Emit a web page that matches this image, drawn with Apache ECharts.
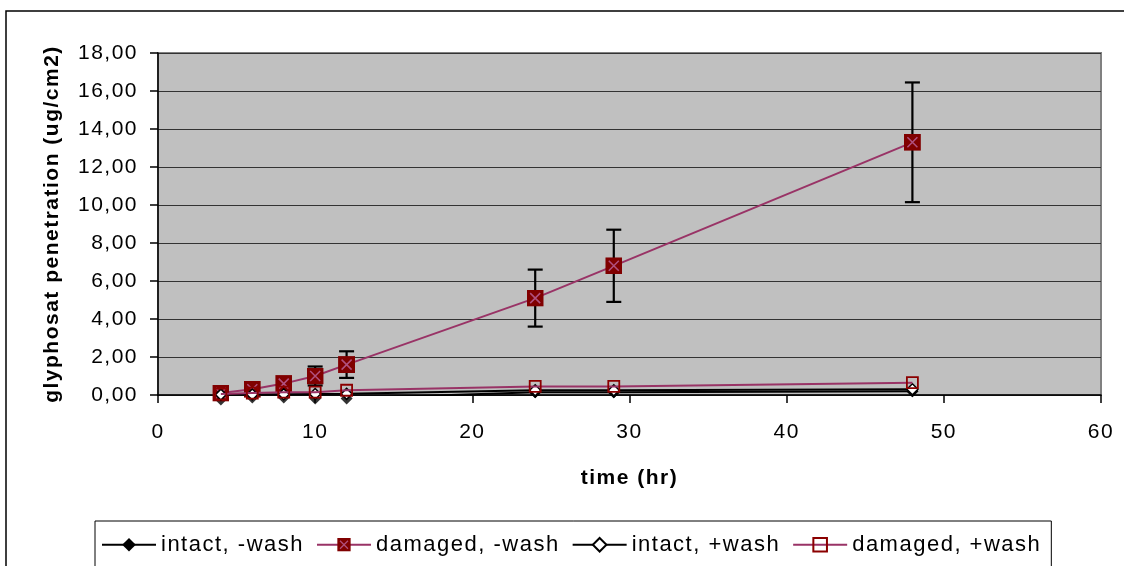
<!DOCTYPE html>
<html>
<head>
<meta charset="utf-8">
<script src="https://cdn.jsdelivr.net/npm/echarts@6/dist/echarts.min.js"></script>
<style>
  html, body { margin: 0; padding: 0; background: #fff; }
  #chart { width: 1124px; height: 566px; }
</style>
</head>
<body>
<div id="chart"></div>
<script>
// Sampling times (hours)
const times = [4, 6, 8, 10, 12, 24, 29, 48];
// Glyphosate penetration (ug/cm2) per treatment
const intactNoWash   = [-0.24, -0.13, -0.13, -0.18, -0.18, 0.15, 0.15, 0.2];
const damagedNoWash  = [0.1, 0.3, 0.6, 1.0, 1.6, 5.1, 6.8, 13.3];
const intactWash     = [0.02, 0.03, 0.04, 0.05, 0.06, 0.25, 0.25, 0.3];
const damagedWash    = [0.05, 0.1, 0.15, 0.15, 0.25, 0.45, 0.45, 0.65];
// Error (±) for the damaged, unwashed series
const damagedNoWashErr = [0.1, 0.15, 0.3, 0.5, 0.7, 1.5, 1.9, 3.15];

const seriesNames = ['intact, -wash', 'damaged, -wash', 'intact, +wash', 'damaged, +wash'];

const pairs = (ys) => times.map((t, i) => [t, ys[i]]);

// Slightly spaced-out lettering for every canvas text (drawn and measured alike)
(function () {
  const proto = CanvasRenderingContext2D.prototype;
  ['fillText', 'strokeText', 'measureText'].forEach((fn) => {
    const orig = proto[fn];
    proto[fn] = function (...args) {
      this.letterSpacing = '1.5px';
      return orig.apply(this, args);
    };
  });
})();

// Dark red square marker with a plum cross
const crossSquareSvg =
  "<svg xmlns='http://www.w3.org/2000/svg' width='34' height='34'>" +
  "<rect x='0' y='0' width='34' height='34' fill='#800000'/>" +
  "<path d='M7,7L27,27M27,7L7,27' stroke='#B0507F' stroke-width='3'/></svg>";
const crossSquare = 'image://data:image/svg+xml;charset=utf-8,' + encodeURIComponent(crossSquareSvg);

const FONT = '"Liberation Sans", Arial, sans-serif';

const chart = echarts.init(document.getElementById('chart'), null, { renderer: 'canvas' });

chart.setOption({
  backgroundColor: '#ffffff',
  animation: false,
  graphic: [{
    type: 'rect',
    shape: { x: 6, y: 11, width: 1160, height: 620 },
    style: { fill: 'none', stroke: '#000', lineWidth: 1.5 },
    silent: true, z: -10
  }],
  grid: {
    left: 158, right: 23, top: 53, bottom: 171,
    show: true,
    backgroundColor: '#C0C0C0',
    borderColor: '#808080',
    borderWidth: 2
  },
  legend: {
    data: seriesNames,
    left: 95, top: 521,
    padding: [12, 10, 40, 6],
    itemWidth: 54, itemHeight: 17,
    itemGap: 12,
    backgroundColor: '#fff',
    borderColor: '#000', borderWidth: 1,
    textStyle: { fontFamily: FONT, fontSize: 22, color: '#000' }
  },
  xAxis: {
    type: 'value',
    min: 0, max: 60, interval: 10,
    name: 'time (hr)',
    nameLocation: 'middle', nameGap: 72,
    nameTextStyle: { fontFamily: FONT, fontSize: 21, fontWeight: 'bold', color: '#000' },
    axisLine: { show: true, onZero: false, lineStyle: { color: '#000', width: 1.5 } },
    axisTick: { show: true, inside: false, length: 8, lineStyle: { color: '#000', width: 1.5 } },
    axisLabel: { fontFamily: FONT, fontSize: 21, color: '#000', margin: 26 },
    splitLine: { show: false }
  },
  yAxis: {
    type: 'value',
    min: 0, max: 18, interval: 2,
    name: 'glyphosat penetration (ug/cm2)',
    nameLocation: 'middle', nameGap: 95,
    nameTextStyle: { fontFamily: FONT, fontSize: 21, fontWeight: 'bold', color: '#000' },
    axisLine: { show: true, lineStyle: { color: '#000', width: 1.5 } },
    axisTick: { show: true, inside: false, length: 8, lineStyle: { color: '#000', width: 1.5 } },
    axisLabel: {
      fontFamily: FONT, fontSize: 21, color: '#000', margin: 20,
      formatter: (v) => v.toFixed(2).replace('.', ',')
    },
    splitLine: { show: true, lineStyle: { color: '#333', width: 1.2 } }
  },
  series: [
    {
      name: 'intact, -wash',
      type: 'line',
      data: pairs(intactNoWash),
      clip: true,
      symbol: 'diamond', symbolSize: 12,
      itemStyle: { color: '#000' },
      lineStyle: { color: '#000', width: 2 },
      z: 2
    },
    {
      // markers of the unwashed intact series may sit just below the axis
      type: 'scatter',
      data: pairs(intactNoWash),
      clip: false,
      symbol: 'diamond', symbolSize: 12,
      itemStyle: { color: '#000' },
      silent: true,
      z: 2
    },
    {
      type: 'custom',
      name: 'errors',
      data: times.map((t, i) => [t, damagedNoWash[i] - damagedNoWashErr[i], damagedNoWash[i] + damagedNoWashErr[i]]),
      renderItem: (params, api) => {
        const lo = api.coord([api.value(0), api.value(1)]);
        const hi = api.coord([api.value(0), api.value(2)]);
        const half = 7.5;
        const style = { stroke: '#000', lineWidth: 2.2, fill: null };
        return {
          type: 'group',
          children: [
            { type: 'line', shape: { x1: lo[0], y1: lo[1], x2: hi[0], y2: hi[1] }, style },
            { type: 'line', shape: { x1: hi[0] - half, y1: hi[1], x2: hi[0] + half, y2: hi[1] }, style },
            { type: 'line', shape: { x1: lo[0] - half, y1: lo[1], x2: lo[0] + half, y2: lo[1] }, style }
          ]
        };
      },
      encode: { x: 0, y: [1, 2] },
      clip: false,
      silent: true,
      z: 3
    },
    {
      name: 'damaged, -wash',
      type: 'line',
      data: pairs(damagedNoWash),
      clip: false,
      symbol: crossSquare, symbolSize: 17,
      itemStyle: { color: '#800000' },
      lineStyle: { color: '#993366', width: 2 },
      z: 4
    },
    {
      name: 'intact, +wash',
      type: 'line',
      data: pairs(intactWash),
      clip: false,
      symbol: 'diamond', symbolSize: 11,
      itemStyle: { color: '#fff', borderColor: '#000', borderWidth: 1.5 },
      lineStyle: { color: '#000', width: 2 },
      z: 5
    },
    {
      name: 'damaged, +wash',
      type: 'line',
      data: pairs(damagedWash),
      clip: false,
      symbol: 'rect', symbolSize: 11,
      itemStyle: { color: 'rgba(255,255,255,0)', borderColor: '#8B0000', borderWidth: 1.8 },
      lineStyle: { color: '#993366', width: 2 },
      z: 6
    }
  ]
});
</script>
</body>
</html>
